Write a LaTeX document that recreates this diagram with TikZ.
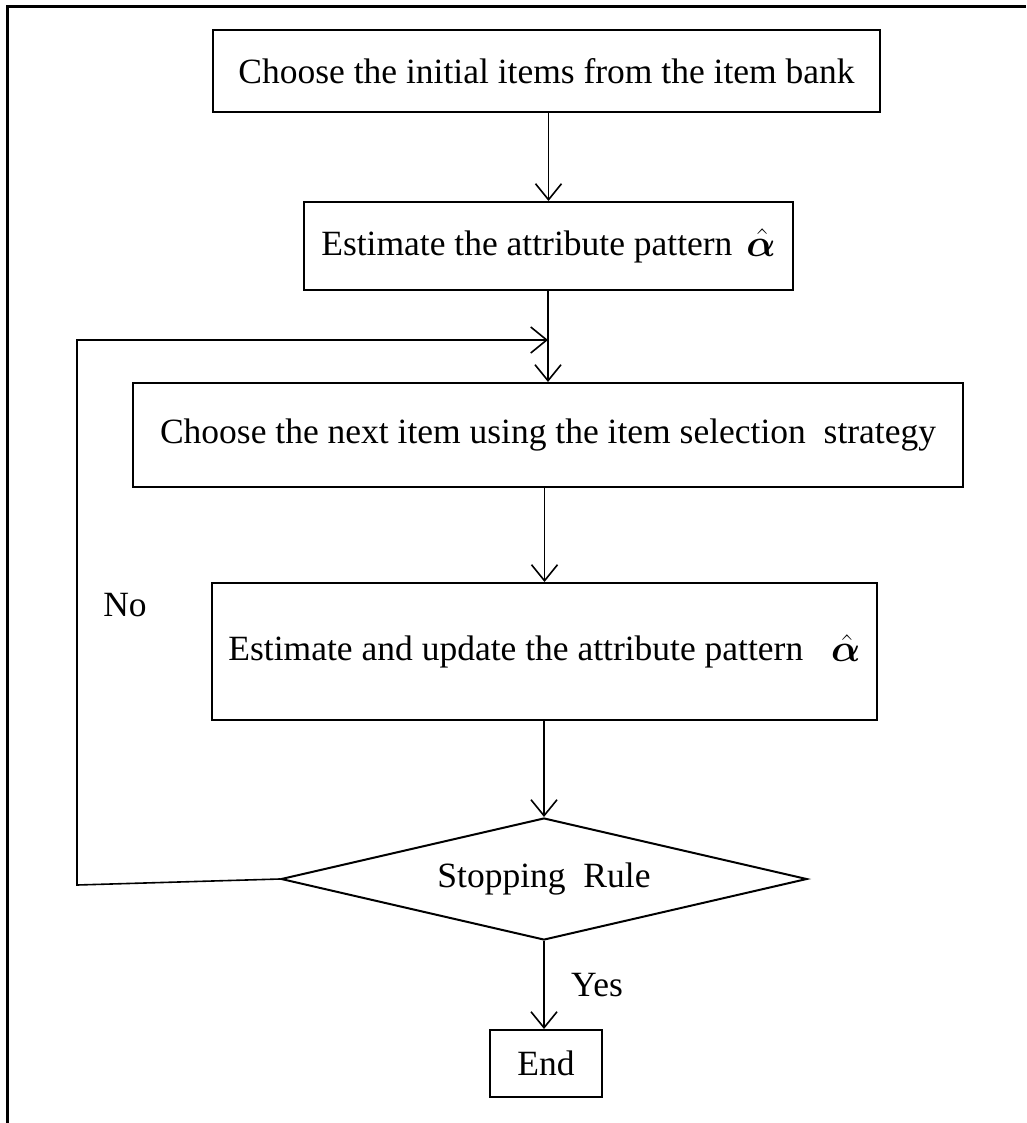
\documentclass[tikz,border=0pt]{standalone}
\usepackage{fontspec}
\setmainfont{Liberation Serif}
\usepackage{amsmath,bm,graphicx}
\usetikzlibrary{shapes.geometric,arrows.meta}
\newcommand{\ahat}{\raisebox{-1pt}{\scalebox{1.55}{$\hat{\bm{\alpha}}$}}}
\begin{document}
\begin{tikzpicture}[x=1pt,y=-1pt,
  box/.style={draw, line width=2pt, inner sep=0pt, font=\fontsize{35.5}{40}\selectfont},
  decision/.style={draw, diamond, aspect=4.31, line width=2pt, inner sep=0pt, font=\fontsize{35.5}{40}\selectfont},
  flow/.style={line width=1.6pt, -{Straight Barb[length=16pt,width=26pt,line width=1.6pt]}},
  lbl/.style={font=\fontsize{35.5}{40}\selectfont, inner sep=0pt}]
\useasboundingbox (0,0) rectangle (1026,1123);
\draw[line width=3pt] (7,1123) -- (7,7) -- (1026,7);
\node[box, minimum width=667pt, minimum height=82pt] (b1) at (546.5,71) {Choose the initial items from the item bank};
\node[box, minimum width=489pt, minimum height=88pt] (b2) at (548.5,246) {Estimate the attribute pattern\hspace{14pt}\ahat};
\node[box, minimum width=830pt, minimum height=104pt] (b3) at (548,435) {Choose the next item using the item selection\ \ strategy};
\node[box, minimum width=665pt, minimum height=137pt] (b4) at (544.5,651.5) {Estimate and update the attribute pattern\hspace{28pt}\ahat};
\node[decision, minimum width=526pt, minimum height=122pt] (d) at (544,879) {Stopping\ \ Rule};
\node[box, minimum width=112pt, minimum height=67pt] (e) at (546,1063.5) {End};
\coordinate (m) at (b3.north |- 0,340);
\coordinate (c1) at (77,885);
\coordinate (c2) at (77,340);
\draw[flow] (b1.south -| b2.north) -- (b2.north);
\draw[flow] (b2.south -| b3.north) -- (b3.north);
\draw[flow] (b3.south -| b4.north) -- (b4.north);
\draw[flow] (b4.south -| d.north) -- (d.north);
\draw[flow] (d.south) -- (d.south |- e.north);
\draw[flow] (d.west) -- (c1) -- (c2) -- (m);
\node[lbl] (no) at (125,605) {No};
\node[lbl] (yes) at (597,985) {Yes};
\end{tikzpicture}
\end{document}
